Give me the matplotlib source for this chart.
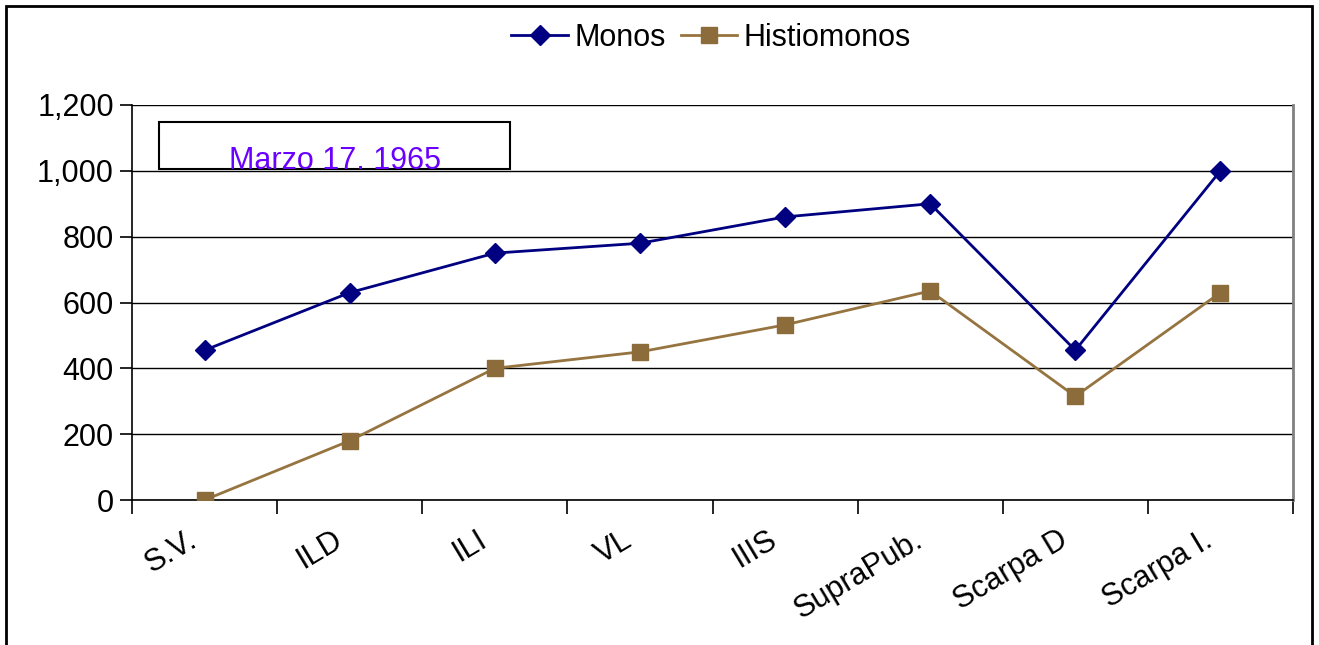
import matplotlib
matplotlib.use("Agg")
import matplotlib.pyplot as plt
import matplotlib.transforms as mtransforms
from matplotlib.patches import Rectangle
from matplotlib.ticker import FuncFormatter

plt.rcParams['font.family'] = ['Liberation Sans', 'DejaVu Sans']

# Data
categories = ["S.V.", "ILD", "ILI", "VL", "IIIS", "SupraPub.", "Scarpa D", "Scarpa I."]
monos = [455, 630, 750, 780, 860, 900, 455, 1000]
histiomonos = [0, 180, 400, 450, 532, 635, 315, 630]
annotation = "Marzo 17, 1965"

W, H = 1319, 645
fig = plt.figure(figsize=(W / 100, H / 100), dpi=100)
ax = fig.add_axes([132 / W, 1 - 500 / H, (1293 - 132) / W, (500 - 105) / H])

x = list(range(len(categories)))
ax.plot(x, monos, color="#000080", lw=2, marker="D", ms=10, label="Monos", zorder=3)
ax.plot(x, histiomonos, color="#967440", mfc="#8C6C3A", mec="#8C6C3A", lw=2,
        marker="s", ms=12, label="Histiomonos", zorder=3)

ax.set_xlim(-0.5, len(categories) - 0.5)
ax.set_ylim(0, 1200)
ax.set_yticks(range(0, 1201, 200))
ax.yaxis.set_major_formatter(FuncFormatter(lambda v, p: f"{int(v):,}"))
ax.tick_params(axis="y", length=9, width=1.2, labelsize=22, pad=4)
ax.grid(axis="y", color="black", lw=1)
ax.set_axisbelow(True)

# tick marks between categories, labels at centres
ax.set_xticks([i - 0.5 for i in range(len(categories) + 1)])
ax.set_xticklabels([])
ax.tick_params(axis="x", which="major", length=10, width=1.2)
ax.set_xticks(x, minor=True)
ax.set_xticklabels(categories, minor=True, rotation=31, ha="right",
                   rotation_mode="anchor", fontsize=22)
ax.tick_params(axis="x", which="minor", length=0, pad=18)
shift = mtransforms.ScaledTranslation(-18 / 100, 0, fig.dpi_scale_trans)
for lab in ax.get_xticklabels(minor=True):
    lab.set_transform(lab.get_transform() + shift)

ax.spines["top"].set_visible(False)
ax.spines["right"].set_color("#808080")
ax.spines["right"].set_linewidth(2)
ax.spines["left"].set_linewidth(1.2)
ax.spines["bottom"].set_linewidth(1.2)

fig.legend(loc="center", bbox_to_anchor=(711 / W, 1 - 38 / H), ncol=2,
           frameon=False, fontsize=22, handlelength=1.85, columnspacing=0.5,
           handletextpad=0.2)

# date box with clipped text
box = Rectangle((159 / W, 1 - 169 / H), (510 - 159) / W, (169 - 122) / H,
                transform=fig.transFigure, fill=True, facecolor="white",
                edgecolor="black", lw=1.5, zorder=4)
fig.add_artist(box)
t = fig.text(335 / W, 1 - 146 / H, annotation, color="#6A00FF", fontsize=22,
             ha="center", va="top", zorder=5)
t.set_clip_path(box)

# outer frame
frame = Rectangle((6 / W, -0.02), (1312 - 6) / W, 1 - 6 / H + 0.02,
                  transform=fig.transFigure, fill=False, edgecolor="black", lw=2)
fig.add_artist(frame)

fig.savefig("out.png", dpi=100)
